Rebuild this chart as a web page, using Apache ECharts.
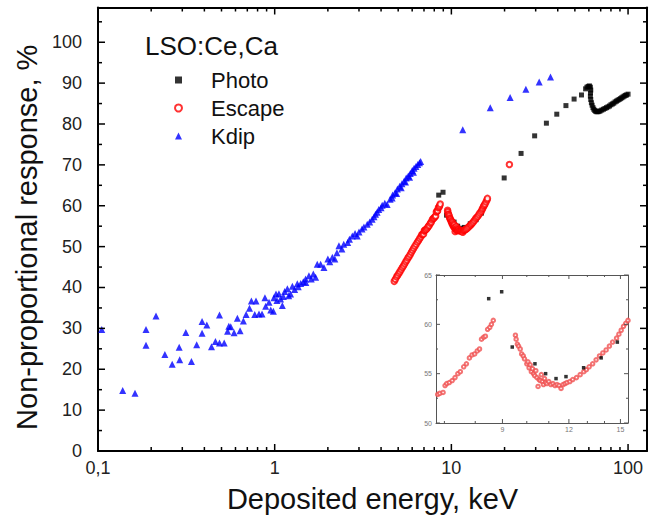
<!DOCTYPE html>
<html>
<head>
<meta charset="utf-8">
<script src="https://cdn.jsdelivr.net/npm/echarts@6/dist/echarts.min.js"></script>
<style>
  html, body { margin: 0; padding: 0; background: #fff; }
  #chart { width: 663px; height: 518px; }
</style>
</head>
<body>
<div id="chart"></div>
<script>
// ---------------- data (keV, %) ----------------
var photo = [
  [8.48,62.6],[8.97,63.3],[9.39,57.7],[10.36,56.0],[10.85,55.0],[11.35,54.5],[11.85,54.7],
  [12.79,55.6],[13.8,56.6],[14.8,58.2],[19.9,66.8],[24.8,72.8],[29.6,77.1],[34.5,80.2],
  [39.5,82.4],[44.5,84.5],[49.5,86.1],[54.5,87.1],[57.5,88.6],[58.5,89.0],[59.5,89.2],
  [60.5,89.3],[61.2,89.0],[61.5,88.3],[61.3,87.6],[61.2,86.8],[61.5,86.0],[62.0,85.2],
  [62.6,84.6],[63.3,84.0],[64.0,83.6],[64.8,83.3],[65.6,83.1],[66.5,83.0],[67.5,83.0],
  [68.5,83.1],[69.5,83.2],[71,83.4],[72.5,83.6],[74,83.8],[75.5,84.0],[77,84.2],[78.5,84.4],
  [80,84.7],[81.5,84.9],[83,85.1],[84.5,85.4],[86,85.6],[87.5,85.8],[89,86.0],[90.5,86.2],
  [92,86.4],[93.5,86.6],[95,86.8],[96.5,87.0],[98,87.1],[100,87.3]
];
var escape = [
  [4.75,41.5],[4.82,42.0],[4.9,42.6],[4.97,43.0],[5.05,43.5],[5.12,43.9],[5.2,44.4],[5.28,44.9],
  [5.36,45.3],[5.44,45.8],[5.52,46.3],[5.6,46.7],[5.68,47.2],[5.76,47.6],[5.85,48.1],[5.94,48.6],
  [6.03,49.1],[6.12,49.6],[6.22,50.1],[6.32,50.6],[6.42,51.1],[6.52,51.5],[6.62,52.0],[6.72,52.4],
  [6.8,52.9],[6.86,53.0],[6.96,53.1],[7.02,53.8],[7.07,54.0],[7.15,54.1],[7.24,54.3],[7.33,54.6],
  [7.42,55.0],[7.5,55.2],[7.61,55.7],[7.7,56.0],[7.8,56.6],[7.89,56.9],[7.98,57.0],[8.07,57.3],
  [8.15,57.5],[8.22,58.5],[8.30,58.7],[8.36,58.8],[8.44,59.5],[8.52,59.7],[8.58,60.0],[8.65,60.4],
  [9.52,58.9],[9.55,58.5],[9.6,58.0],[9.65,57.8],[9.72,57.5],[9.78,57.0],[9.85,56.8],[9.9,56.5],
  [10.0,56.0],[10.05,56.2],[10.1,55.6],[10.15,55.9],[10.2,55.2],[10.25,55.5],[10.3,55.0],[10.35,54.8],
  [10.4,55.3],[10.45,54.6],[10.5,53.7],[10.55,54.4],[10.6,54.3],[10.65,54.9],[10.7,54.2],[10.75,53.9],
  [10.8,54.5],[10.85,54.1],[10.91,54.0],[11.0,54.2],[11.1,53.9],[11.2,54.0],[11.3,53.8],[11.4,53.9],
  [11.5,53.8],[11.6,53.5],[11.7,53.9],[11.8,54.0],[11.9,54.1],[12.05,54.2],[12.2,54.4],[12.4,54.6],
  [12.6,54.9],[12.8,55.2],[12.94,55.4],[13.1,55.7],[13.3,56.0],[13.5,56.4],[13.7,56.8],[13.9,57.1],
  [14.1,57.4],[14.3,57.8],[14.5,58.2],[14.75,58.6],[14.9,59.0],[15.05,59.4],[15.2,59.8],[15.35,60.1],
  [15.5,60.4],[15.7,60.9],[15.9,61.4],[16.0,61.8],[21.3,70.1]
];
var kdip = [
  [0.105,29.7],[0.138,14.8],[0.162,14.1],[0.187,29.7],[0.187,25.9],[0.213,33.0],[0.239,23.6],
  [0.263,21.2],[0.288,25.4],[0.29,22.3],[0.314,29.0],[0.338,21.9],[0.362,26.0],[0.388,31.7],
  [0.388,28.8],[0.413,30.8],[0.439,25.5],[0.462,26.8],[0.487,33.3],[0.487,26.4],[0.518,26.4],
  [0.541,29.3],[0.55,30.5],[0.564,30.4],[0.589,28.9],[0.615,32.5],[0.637,29.4],[0.665,31.8],
  [0.689,33.4],[0.72,34.9],[0.738,36.7],[0.771,33.4],[0.784,36.7],[0.815,33.5],[0.848,33.5],
  [0.881,37.5],[0.889,35.4],[0.929,36.4],[0.95,34.5],[0.983,34.2],[0.99,37.5],[1.017,38.4],
  [1.03,36.8],[1.057,38.5],[1.08,37.2],[1.105,35.6],[1.12,37.8],[1.139,39.0],[1.18,39.7],
  [1.2,38.0],[1.23,38.4],[1.259,40.3],[1.297,39.5],[1.343,40.9],[1.36,40.2],[1.403,41.0],
  [1.452,41.4],[1.496,42.1],[1.5,41.2],[1.563,42.9],[1.61,42.1],[1.654,43.3],[1.705,42.5],
  [1.742,45.7],[1.82,45.7],[1.9,44.9],[2.0,47.0],[2.05,46.3],[2.12,47.4],[2.19,47.0],[2.25,48.5],
  [2.31,50.2],[2.4,49.4],[2.46,50.6],[2.59,51.0],[2.65,51.8],[2.75,52.6],[2.85,53.2],[2.93,52.6],
  [3.0,53.6],[3.12,54.3],[3.2,54.8],[3.34,55.5],[3.45,56.0],[3.56,56.7],[3.65,57.3],[3.72,57.9],
  [3.8,58.4],[3.88,59.1],[4.0,59.5],[4.06,60.1],[4.2,60.6],[4.33,60.3],[4.5,61.6],[4.62,61.9],
  [4.65,62.6],[4.8,63.2],[4.9,63.0],[4.95,64.1],[5.1,64.8],[5.2,64.4],[5.25,65.4],[5.4,66.0],
  [5.5,65.8],[5.55,66.8],[5.7,67.3],[5.8,67.0],[5.85,67.9],[6.0,68.6],[6.1,68.2],[6.15,69.2],
  [6.3,69.6],[6.45,70.1],[6.6,70.5],[6.7,70.8],
  [11.6,78.6],[16.6,84.0],[21.5,86.5],[26.4,88.5],[31.4,90.3],[36.4,91.5]
];
// ---------------- ticks ----------------
var xMajor = [0.1, 1, 10, 100];
var xMinor = [0.2,0.3,0.4,0.5,0.6,0.7,0.8,0.9,2,3,4,5,6,7,8,9,20,30,40,50,60,70,80,90];
var yLabels = [0,10,20,30,40,50,60,70,80,90,100];
var yMinor = [5,15,25,35,45,55,65,75,85,95,105];
var insetXLabels = [9, 12, 15];
var insetXMinor = [7,8,10,11,13,14];
var insetYLabels = [50,55,60,65];
var insetYMinor = [52.5,57.5,62.5];

var INSET_X = [6.75, 15.5], INSET_Y = [50, 65];
function inInset(p) { return p[0] >= INSET_X[0] && p[0] <= INSET_X[1] && p[1] >= INSET_Y[0] && p[1] <= INSET_Y[1]; }

var FONT = 'Liberation Sans, Arial, sans-serif';
var chart = echarts.init(document.getElementById('chart'), null, {renderer: 'svg'});

function commaFmt(v) { return String(+Number(v).toPrecision(6)).replace('.', ','); }

// tick marks drawn as small filled bars, positioned through the axis scales (api.coord)
function xTickRenderer(color, width, labelStyle) {
  return function (params, api) {
    var cs = params.coordSys;
    var v = api.value(0), len = api.value(1), lab = api.value(3);
    var x = api.coord([v, api.value(2)])[0];
    var yb = cs.y + cs.height, yt = cs.y;
    var children = [
      {type: 'rect', shape: {x: x - width / 2, y: yb - len, width: width, height: len}, style: {fill: color}},
      {type: 'rect', shape: {x: x - width / 2, y: yt, width: width, height: len}, style: {fill: color}}
    ];
    if (labelStyle && lab === 1) {
      children.push({type: 'text', x: x, y: yb + 3, style: {
        text: String(v), fill: labelStyle.color, fontSize: labelStyle.fontSize, fontFamily: FONT,
        align: 'center', verticalAlign: 'top'}});
    }
    return {type: 'group', children: children};
  };
}
function yTickRenderer(color, width) {
  return function (params, api) {
    var cs = params.coordSys;
    var len = api.value(1);
    var y = api.coord([api.value(0), api.value(2)])[1];
    var xl = cs.x, xr = cs.x + cs.width;
    return {type: 'group', children: [
      {type: 'rect', shape: {x: xl, y: y - width / 2, width: len, height: width}, style: {fill: color}},
      {type: 'rect', shape: {x: xr - len, y: y - width / 2, width: len, height: width}, style: {fill: color}}
    ]};
  };
}
function xTickData(major, minor, lMaj, lMin, yRef) {
  return major.map(function (v) { return [v, lMaj, yRef, 1]; })
    .concat(minor.map(function (v) { return [v, lMin, yRef, 0]; }));
}
function yTickData(major, minor, lMaj, lMin, xRef) {
  return major.map(function (v) { return [xRef, lMaj, v]; })
    .concat(minor.map(function (v) { return [xRef, lMin, v]; }));
}
function mainLine() { return {show: true, onZero: false, lineStyle: {color: '#000', width: 2}}; }
function insetLine() { return {show: true, onZero: false, lineStyle: {color: '#555', width: 1}}; }

var option = {
  animation: false,
  backgroundColor: '#fff',
  textStyle: {fontFamily: FONT},
  title: {
    text: 'LSO:Ce,Ca', left: 145, top: 33, padding: 0,
    textStyle: {fontFamily: FONT, fontSize: 26, fontWeight: 'normal', color: '#111'}
  },
  legend: {
    data: ['Photo', 'Escape', 'Kdip'],
    orient: 'vertical', left: 174, top: 69, padding: 0,
    itemWidth: 7, itemHeight: 7, itemGap: 6,
    textStyle: {fontFamily: FONT, fontSize: 22, color: '#111', padding: [0, 0, 0, 24]}
  },
  grid: [
    {left: 98, right: 16, top: 7.5, bottom: 65},
    {left: 436, right: 35, top: 275, bottom: 95, show: true, backgroundColor: '#fff', borderWidth: 0}
  ],
  xAxis: [
    {type: 'log', gridIndex: 0, position: 'bottom', min: 0.1, max: 128,
     splitLine: {show: false}, axisLine: mainLine(), axisTick: {show: false},
     name: 'Deposited energy, keV', nameLocation: 'middle', nameGap: 33,
     nameTextStyle: {fontFamily: FONT, fontSize: 29, color: '#111'},
     axisLabel: {show: true, customValues: xMajor, formatter: commaFmt, fontFamily: FONT, fontSize: 18, color: '#222', margin: 8}},
    {type: 'log', gridIndex: 0, position: 'top', min: 0.1, max: 128,
     splitLine: {show: false}, axisLine: mainLine(), axisTick: {show: false}, axisLabel: {show: false}},
    {type: 'log', gridIndex: 1, position: 'bottom', min: INSET_X[0], max: INSET_X[1],
     splitLine: {show: false}, axisLine: insetLine(), axisTick: {show: false}, axisLabel: {show: false}},
    {type: 'log', gridIndex: 1, position: 'top', min: INSET_X[0], max: INSET_X[1],
     splitLine: {show: false}, axisLine: insetLine(), axisTick: {show: false}, axisLabel: {show: false}}
  ],
  yAxis: [
    {type: 'value', gridIndex: 0, position: 'left', min: 0, max: 108.5, interval: 10,
     splitLine: {show: false}, axisLine: mainLine(), axisTick: {show: false},
     name: 'Non-proportional response, %', nameLocation: 'middle', nameGap: 55,
     nameTextStyle: {fontFamily: FONT, fontSize: 29, color: '#111', padding: [0, 16, 0, 0]},
     axisLabel: {show: true, customValues: yLabels, fontFamily: FONT, fontSize: 18, color: '#222', margin: 16}},
    {type: 'value', gridIndex: 0, position: 'right', min: 0, max: 108.5, interval: 10,
     splitLine: {show: false}, axisLine: mainLine(), axisTick: {show: false}, axisLabel: {show: false}},
    {type: 'value', gridIndex: 1, position: 'left', min: INSET_Y[0], max: INSET_Y[1], interval: 5,
     splitLine: {show: false}, axisLine: insetLine(), axisTick: {show: false},
     axisLabel: {show: true, fontFamily: FONT, fontSize: 7, color: '#777', margin: 4}},
    {type: 'value', gridIndex: 1, position: 'right', min: INSET_Y[0], max: INSET_Y[1], interval: 5,
     splitLine: {show: false}, axisLine: insetLine(), axisTick: {show: false}, axisLabel: {show: false}}
  ],
  series: [
    {name: 'Photo', type: 'scatter', xAxisIndex: 0, yAxisIndex: 0, data: photo,
     symbol: 'rect', symbolSize: 5, itemStyle: {color: '#000'}, z: 3},
    {name: 'Escape', type: 'scatter', xAxisIndex: 0, yAxisIndex: 0, data: escape,
     symbol: 'emptyCircle', symbolSize: 5.5, itemStyle: {color: '#ff0000', borderColor: '#ff0000', borderWidth: 1}, z: 4},
    {name: 'Kdip', type: 'scatter', xAxisIndex: 0, yAxisIndex: 0, data: kdip,
     symbol: 'triangle', symbolSize: 7, itemStyle: {color: '#0000ff'}, z: 5},
    {name: 'Photo inset', type: 'scatter', xAxisIndex: 2, yAxisIndex: 2, data: photo.filter(inInset), clip: false,
     symbol: 'rect', symbolSize: 3.5, itemStyle: {color: '#000'}, z: 6},
    {name: 'Escape inset', type: 'scatter', xAxisIndex: 2, yAxisIndex: 2, data: escape.filter(inInset), clip: false,
     symbol: 'emptyCircle', symbolSize: 3.5, itemStyle: {color: '#f05050', borderColor: '#f05050', borderWidth: 0.8}, z: 5},
    {name: 'xticks main', type: 'custom', xAxisIndex: 0, yAxisIndex: 0, z: 10,
     encode: {x: 0, y: 2}, renderItem: xTickRenderer('#000', 1.5, null),
     data: xTickData(xMajor, xMinor, 7, 4, 50)},
    {name: 'yticks main', type: 'custom', xAxisIndex: 0, yAxisIndex: 0, z: 10,
     encode: {x: 0, y: 2}, renderItem: yTickRenderer('#000', 1.5),
     data: yTickData(yLabels, yMinor, 7, 4, 1)},
    {name: 'xticks inset', type: 'custom', xAxisIndex: 2, yAxisIndex: 2, z: 10,
     encode: {x: 0, y: 2}, renderItem: xTickRenderer('#555', 1, {color: '#777', fontSize: 7}),
     data: xTickData(insetXLabels, insetXMinor, 4, 2, 55)},
    {name: 'yticks inset', type: 'custom', xAxisIndex: 2, yAxisIndex: 2, z: 10,
     encode: {x: 0, y: 2}, renderItem: yTickRenderer('#555', 1),
     data: yTickData(insetYLabels, insetYMinor, 4, 2, 10)}
  ]
};
chart.setOption(option);
</script>
</body>
</html>
